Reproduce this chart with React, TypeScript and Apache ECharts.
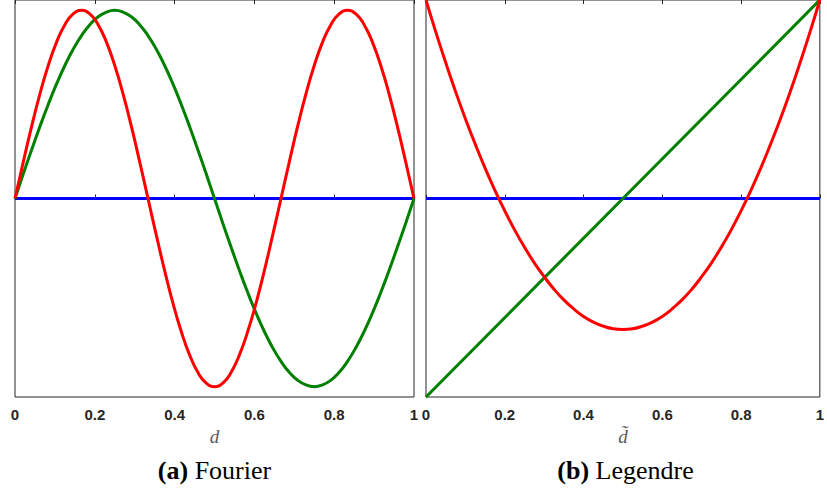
import React, { useEffect, useRef } from "react";
import * as echarts from "echarts";

// Sample positions for the Fourier curves
const dFourier = [
  0, 0.0208, 0.0417, 0.0625, 0.0833, 0.1042, 0.125, 0.1458, 0.1667, 0.1875, 0.2083, 0.2292,
  0.25, 0.2708, 0.2917, 0.3125, 0.3333, 0.3542, 0.375, 0.3958, 0.4167, 0.4375, 0.4583, 0.4792,
  0.5, 0.5208, 0.5417, 0.5625, 0.5833, 0.6042, 0.625, 0.6458, 0.6667, 0.6875, 0.7083, 0.7292,
  0.75, 0.7708, 0.7917, 0.8125, 0.8333, 0.8542, 0.875, 0.8958, 0.9167, 0.9375, 0.9583, 0.9792, 1,
];

// (a) Fourier basis
const fourierBlueX = [0, 1];
const fourierBlue = [0, 0];
const fourierGreen = [
  0, 0.131, 0.259, 0.383, 0.5, 0.609, 0.707, 0.793, 0.866, 0.924, 0.966, 0.991, 1, 0.991,
  0.966, 0.924, 0.866, 0.793, 0.707, 0.609, 0.5, 0.383, 0.259, 0.131, 0, -0.131, -0.259,
  -0.383, -0.5, -0.609, -0.707, -0.793, -0.866, -0.924, -0.966, -0.991, -1, -0.991, -0.966,
  -0.924, -0.866, -0.793, -0.707, -0.609, -0.5, -0.383, -0.259, -0.131, 0,
];
const fourierRed = [
  0, 0.195, 0.383, 0.556, 0.707, 0.831, 0.924, 0.981, 1, 0.981, 0.924, 0.831, 0.707, 0.556,
  0.383, 0.195, 0, -0.195, -0.383, -0.556, -0.707, -0.831, -0.924, -0.981, -1, -0.981, -0.924,
  -0.831, -0.707, -0.556, -0.383, -0.195, 0, 0.195, 0.383, 0.556, 0.707, 0.831, 0.924, 0.981,
  1, 0.981, 0.924, 0.831, 0.707, 0.556, 0.383, 0.195, 0,
];

// Sample positions for the Legendre curves
const dLegendre = [
  0, 0.025, 0.05, 0.075, 0.1, 0.125, 0.15, 0.175, 0.2, 0.225, 0.25, 0.275, 0.3, 0.325, 0.35,
  0.375, 0.4, 0.425, 0.45, 0.475, 0.5, 0.525, 0.55, 0.575, 0.6, 0.625, 0.65, 0.675, 0.7, 0.725,
  0.75, 0.775, 0.8, 0.825, 0.85, 0.875, 0.9, 0.925, 0.95, 0.975, 1,
];

// (b) Legendre basis
const legendreBlueX = [0, 1];
const legendreBlue = [0, 0];
const legendreGreenX = [0, 0.5, 1];
const legendreGreen = [-1, 0, 1];
const legendreRed = [
  1, 0.838, 0.685, 0.539, 0.402, 0.274, 0.153, 0.041, -0.062, -0.158, -0.245, -0.324, -0.394,
  -0.457, -0.511, -0.556, -0.594, -0.623, -0.643, -0.656, -0.66, -0.656, -0.643, -0.623, -0.594,
  -0.556, -0.511, -0.457, -0.394, -0.324, -0.245, -0.158, -0.062, 0.041, 0.153, 0.274, 0.402,
  0.539, 0.685, 0.838, 1,
];

const xTicks = [0, 0.2, 0.4, 0.6, 0.8, 1];
const panelTitles = [
  { tag: "(a)", name: "Fourier" },
  { tag: "(b)", name: "Legendre" },
];
const axisNames = ["d", "d\u0303"];

const BLUE = "#0000ff";
const GREEN = "#008000";
const RED = "#ff0000";
const AXIS = "#262626";

const zip = (xs: number[], ys: number[]) => xs.map((x, i) => [x, ys[i]]);

const fmtTick = (v: number) => {
  const r = Math.round(v * 10) / 10;
  if (r === 0) return "0";
  if (r === 1) return "1";
  return r.toFixed(1);
};

const grids = [
  { left: 15, top: -1, width: 399, height: 398 },
  { left: 426, top: -1, width: 399, height: 398 },
];

function bottomAxis(gridIndex: number) {
  return {
    type: "value",
    gridIndex,
    position: "bottom",
    min: xTicks[0],
    max: xTicks[xTicks.length - 1],
    interval: 0.2,
    axisLine: { show: false },
    axisTick: { show: true, inside: true, length: 4, lineStyle: { color: AXIS, width: 1 } },
    splitLine: { show: false },
    axisLabel: {
      show: true,
      formatter: fmtTick,
      color: AXIS,
      fontFamily: "Liberation Sans",
      fontWeight: "bold",
      fontSize: 15,
      margin: 10,
      showMinLabel: true,
      showMaxLabel: true,
    },
    name: axisNames[gridIndex],
    nameLocation: "middle",
    nameGap: 30,
    nameTextStyle: {
      fontFamily: "Liberation Serif",
      fontStyle: "italic",
      fontSize: 19,
      color: "#595959",
    },
  };
}

function topAxis(gridIndex: number) {
  return {
    type: "value",
    gridIndex,
    position: "top",
    min: xTicks[0],
    max: xTicks[xTicks.length - 1],
    interval: 0.2,
    axisLine: { show: false },
    axisTick: { show: true, inside: true, length: 4, lineStyle: { color: AXIS, width: 1 } },
    splitLine: { show: false },
    axisLabel: { show: false },
  };
}

function lineSeries(
  xAxisIndex: number,
  yAxisIndex: number,
  data: number[][],
  color: string,
  smooth: boolean
) {
  return {
    type: "line",
    xAxisIndex,
    yAxisIndex,
    data,
    showSymbol: false,
    smooth,
    clip: true,
    lineStyle: { color, width: 3 },
    silent: true,
  };
}

export default function App() {
  const ref = useRef<HTMLDivElement>(null);

  useEffect(() => {
    if (!ref.current) return;
    const chart = echarts.init(ref.current, undefined, { renderer: "svg" });

    const option = {
      animation: false,
      backgroundColor: "#ffffff",
      grid: grids.map((g) => ({
        ...g,
        show: true,
        borderColor: AXIS,
        borderWidth: 1,
        backgroundColor: "transparent",
        containLabel: false,
      })),
      xAxis: [bottomAxis(0), topAxis(0), bottomAxis(1), topAxis(1)],
      yAxis: [
        {
          type: "value",
          gridIndex: 0,
          min: -1.055,
          max: 1.055,
          axisLine: { show: false },
          axisTick: { show: false },
          axisLabel: { show: false },
          splitLine: { show: false },
        },
        {
          type: "value",
          gridIndex: 1,
          min: -1,
          max: 1,
          axisLine: { show: false },
          axisTick: { show: false },
          axisLabel: { show: false },
          splitLine: { show: false },
        },
      ],
      series: [
        lineSeries(0, 0, zip(fourierBlueX, fourierBlue), BLUE, false),
        lineSeries(0, 0, zip(dFourier, fourierGreen), GREEN, true),
        lineSeries(0, 0, zip(dFourier, fourierRed), RED, true),
        lineSeries(2, 1, zip(legendreBlueX, legendreBlue), BLUE, false),
        lineSeries(2, 1, zip(legendreGreenX, legendreGreen), GREEN, false),
        lineSeries(2, 1, zip(dLegendre, legendreRed), RED, true),
      ],
      graphic: panelTitles.map((t, i) => ({
        type: "text",
        x: grids[i].left + grids[i].width / 2,
        y: 470,
        style: {
          text: `{b|${t.tag}} ${t.name}`,
          align: "center",
          verticalAlign: "middle",
          fill: "#000000",
          fontFamily: "Liberation Serif",
          fontSize: 26,
          rich: {
            b: {
              fontFamily: "Liberation Serif",
              fontWeight: "bold",
              fontSize: 26,
              fill: "#000000",
            },
          },
        },
      })),
    };

    chart.setOption(option as any);
    return () => chart.dispose();
  }, []);

  return (
    <div
      ref={ref}
      style={{ position: "absolute", left: 0, top: 0, width: 827, height: 490 }}
    />
  );
}
